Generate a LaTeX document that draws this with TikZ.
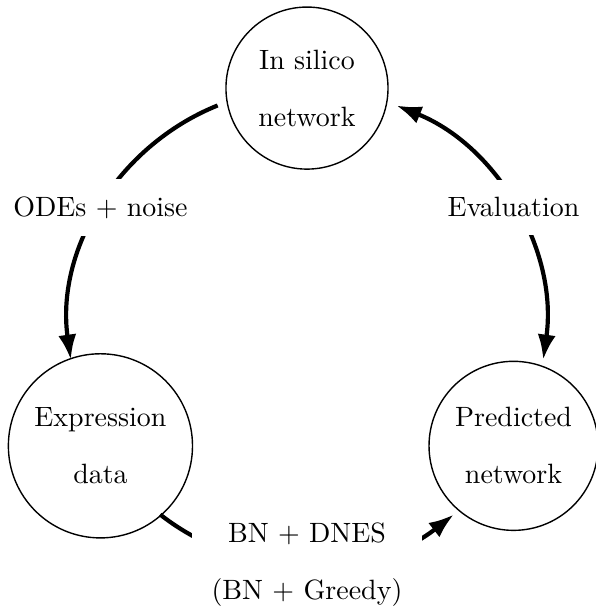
\documentclass[tikz,border=0pt]{standalone}
\usetikzlibrary{arrows.meta}
\begin{document}
\begin{tikzpicture}[
  font=\fontsize{10}{20.4}\selectfont,
  state/.style={draw, circle, line width=0.5pt, align=center, inner sep=0pt},
  flow/.style={line width=1.5pt, -{Latex[length=9pt,width=6.5pt]}},
  twoway/.style={line width=1.5pt, {Latex[length=9pt,width=6.5pt]}-{Latex[length=9pt,width=6.5pt]}},
  lbl/.style={fill=white, align=center, inner xsep=7pt, inner ysep=6.3pt}
]
\useasboundingbox (-109.87pt,-101.43pt) rectangle (103.43pt,116.89pt);
\def\rad{3cm}
\coordinate (O) at (0,0);
\node[state, minimum size=58pt]   (sim)  at (90:\rad)  {In silico\\network};
\node[state, minimum size=65.9pt] (expr) at (210:\rad) {Expression\\data};
\node[state, minimum size=60.5pt] (pred) at (330:\rad) {Predicted\\network};
\draw[flow] ([shift={(112:\rad)}]O) arc[start angle=112, end angle=188, radius=\rad];
\draw[flow] ([shift={(232:\rad)}]O) arc[start angle=232, end angle=308, radius=\rad];
\draw[twoway] ([shift={(352:\rad)}]O) arc[start angle=352, end angle=428, radius=\rad];
\node[lbl] (ode)  at (150:\rad) {ODEs $+$ noise};
\node[lbl] (eval) at (30:\rad)  {Evaluation};
\node[lbl] (bn)   at (270:\rad) {BN $+$ DNES\\(BN $+$ Greedy)};
\end{tikzpicture}
\end{document}
